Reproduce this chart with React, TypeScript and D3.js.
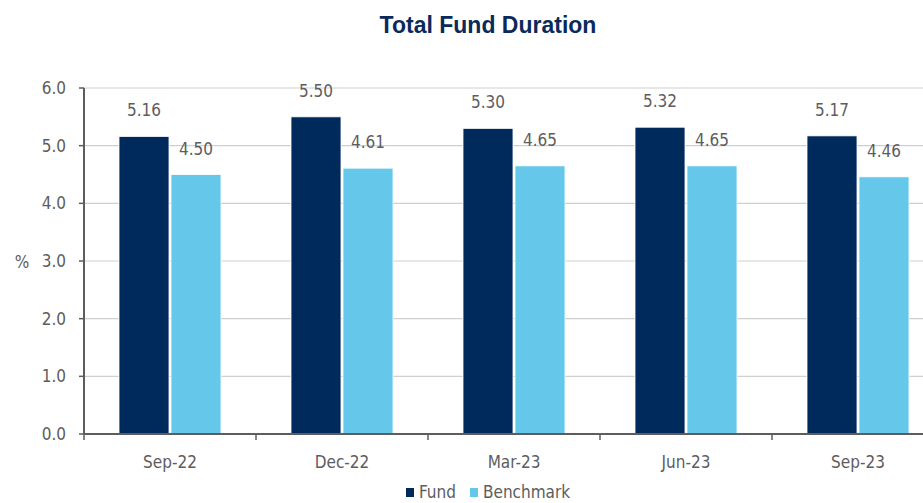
import React from "react";
import * as d3 from "d3";

const categories = ["Sep-22", "Dec-22", "Mar-23", "Jun-23", "Sep-23"];
const fundValues = [5.16, 5.5, 5.3, 5.32, 5.17];
const benchmarkValues = [4.5, 4.61, 4.65, 4.65, 4.46];
const yTicks = [0, 1, 2, 3, 4, 5, 6];
const seriesNames = ["Fund", "Benchmark"];
const seriesColors = ["#002a5c", "#65c8ea"];

const W = 923;
const H = 503;
const font = "'Liberation Sans Narrow', 'DejaVu Sans Condensed', 'Roboto', sans-serif";
const textColor = "#5d5d60";

export default function App() {
  const left = 84;
  const top = 88;
  const bottom = 434;

  // band scale runs past the right edge, like the original cut-off chart
  const x = d3.scaleBand().domain(categories).range([left, left + 172 * 5]);
  const y = d3.scaleLinear().domain([0, 6]).range([bottom, top]);
  const barW = 50;

  const series = [fundValues, benchmarkValues];

  return (
    <svg width={W} height={H} style={{ position: "absolute", left: 0, top: 0 }} fontFamily={font}>
      <rect width={W} height={H} fill="#fff" />
      <text x={488} y={33} textAnchor="middle" fontSize={23} fontWeight="bold" fill="#0a2a5c"
        fontFamily="'Liberation Sans', Arial, sans-serif">
        Total Fund Duration
      </text>

      {yTicks.map(t => (
        <g key={t}>
          {t > 0 && <line x1={left} x2={W} y1={y(t)} y2={y(t)} stroke="#cfcfcf" strokeWidth={1.2} />}
          <line x1={79} x2={left} y1={y(t)} y2={y(t)} stroke="#5d5d60" strokeWidth={1.5} />
          <text x={66} y={y(t)} dy="0.35em" textAnchor="end" fontSize={17} fill={textColor}>
            {d3.format(".1f")(t)}
          </text>
        </g>
      ))}
      <text x={22} y={262} dy="0.35em" textAnchor="middle" fontSize={17} fill={textColor}>%</text>

      {categories.map((c, i) => {
        const cx = (x(c) as number) + x.bandwidth() / 2;
        return (
          <g key={c}>
            {series.map((vals, s) => {
              const bx = s === 0 ? cx - barW - 1 : cx + 1;
              return (
                <g key={s}>
                  <rect x={bx} y={y(vals[i])} width={barW} height={bottom - y(vals[i])}
                    fill={seriesColors[s]} stroke="#fff" strokeWidth={0.8} />
                  <text x={bx + barW / 2} y={y(vals[i]) - 20} textAnchor="middle"
                    fontSize={17} fill={textColor}>
                    {d3.format(".2f")(vals[i])}
                  </text>
                </g>
              );
            })}
            <text x={cx} y={468} textAnchor="middle" fontSize={17} fill={textColor}>{c}</text>
          </g>
        );
      })}

      {categories.map((c, i) => (
        <line key={"t" + i} x1={x(c)} x2={x(c)} y1={bottom} y2={bottom + 6} stroke="#5d5d60" strokeWidth={1.5} />
      ))}
      <line x1={left} x2={left} y1={top} y2={bottom} stroke="#5d5d60" strokeWidth={2} />
      <line x1={left} x2={W} y1={bottom} y2={bottom} stroke="#5d5d60" strokeWidth={2} />

      {seriesNames.map((n, i) => {
        const lx = i === 0 ? 406 : 470;
        return (
          <g key={n}>
            <rect x={lx} y={488} width={8} height={9} fill={seriesColors[i]} />
            <text x={lx + 13} y={498} fontSize={17} fill={textColor}>{n}</text>
          </g>
        );
      })}
    </svg>
  );
}
